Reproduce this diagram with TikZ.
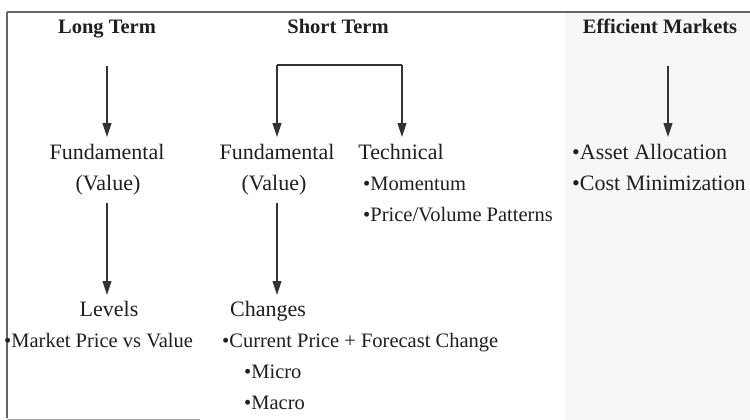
\documentclass[tikz,border=0pt]{standalone}
\usepackage{fontspec}
\setmainfont{Liberation Serif}
\usetikzlibrary{arrows.meta}
\begin{document}
\begin{tikzpicture}[x=1pt,y=-1pt,
  txt/.style={inner sep=0pt, font=\fontsize{20.5}{24}\selectfont, text=black!88},
  big/.style={inner sep=0pt, font=\fontsize{22}{26}\selectfont, text=black!88},
  head/.style={inner sep=0pt, font=\fontsize{20.5}{24}\selectfont\bfseries, anchor=base, text=black!88},
  arr/.style={draw=black!80, line width=1.1pt, -{Triangle[length=14pt,width=9pt]}},
  ln/.style={draw=black!80, line width=1.1pt},
  frame/.style={draw=black!60, line width=1.5pt}
]
\fill[white] (0,0) rectangle (750,420);
\fill[black!3] (565,12) rectangle (750,420);
\useasboundingbox (0,0) rectangle (750,420);
\draw[frame] (7,12) -- (750,12);
\draw[frame] (7,12) -- (7,418);
\draw[black!35, line width=1pt] (7,419) -- (200,419);

% headings
\node[head] (lt) at (107,34) {Long Term};
\node[head] (st) at (338,34) {Short Term};
\node[head] (em) at (660,34) {Efficient Markets};

% middle row
\node[big,anchor=base] (f1) at (107,159) {Fundamental};
\node[big,anchor=base] (v1) at (108,190) {(Value)};
\node[big,anchor=base] (f2) at (277,159) {Fundamental};
\node[big,anchor=base] (v2) at (274,190) {(Value)};
\node[big,anchor=base] (tech) at (401,159) {Technical};
\node[txt,anchor=base west] (mom) at (363,190) {\textbullet Momentum};
\node[txt,anchor=base west] (pvp) at (363,221) {\textbullet Price/Volume Patterns};
\node[big,anchor=base west] (aa) at (572,159) {\textbullet Asset Allocation};
\node[big,anchor=base west] (cm) at (572,190) {\textbullet Cost Minimization};

% bottom row
\node[big,anchor=base] (lev) at (109,316) {Levels};
\node[txt,anchor=base west] (mp) at (4,347) {\textbullet Market Price vs Value};
\node[big,anchor=base] (chg) at (268,316) {Changes};
\node[txt,anchor=base west] (cp) at (222,347) {\textbullet Current Price + Forecast Change};
\node[txt,anchor=base west] (mi) at (244,378) {\textbullet Micro};
\node[txt,anchor=base west] (ma) at (244,409) {\textbullet Macro};

% connectors
\coordinate (a1s) at (f1.north |- 0,66);
\coordinate (a1e) at (f1.north |- 0,137);
\draw[arr] (a1s) -- (a1e);

\coordinate (brL) at (f2.north |- 0,65);
\coordinate (brR) at (402,65);
\coordinate (brLe) at (f2.north |- 0,137);
\coordinate (brRe) at (402,137);
\draw[ln] (brL) -- (brR);
\draw[arr] (brL) -- (brLe);
\draw[arr] (brR) -- (brRe);

\coordinate (a3s) at (668,66);
\coordinate (a3e) at (668,137);
\draw[arr] (a3s) -- (a3e);

\draw[arr, shorten <=8pt] (f1.south |- v1.south) -- (f1.south |- 0,295);
\draw[arr, shorten <=8pt] (f2.south |- v2.south) -- (f2.south |- 0,295);
\end{tikzpicture}
\end{document}
